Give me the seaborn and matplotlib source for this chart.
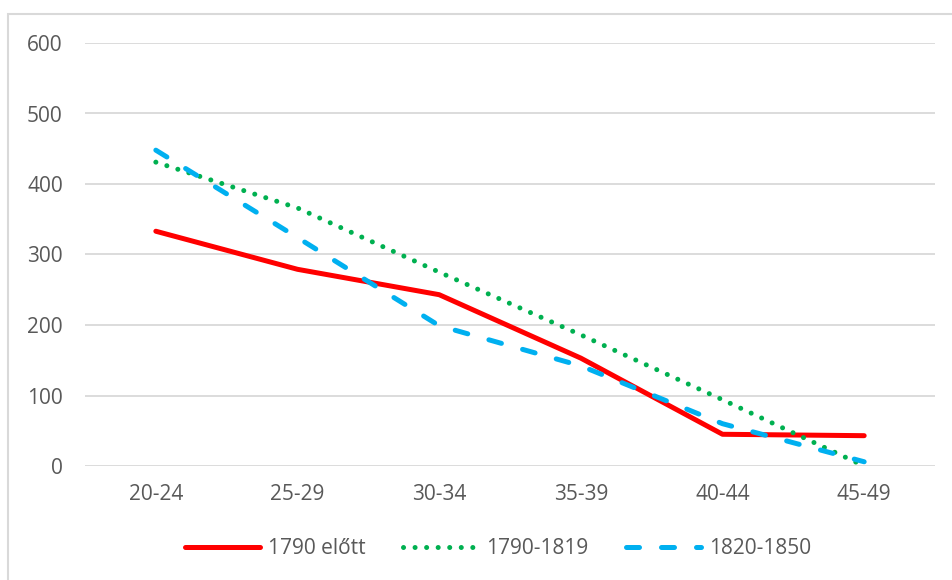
import numpy as np
import pandas as pd
import matplotlib
matplotlib.use('Agg')
import matplotlib.pyplot as plt
import matplotlib.patches as mpatches
import seaborn as sns

# data
age_groups = ['20-24', '25-29', '30-34', '35-39', '40-44', '45-49']
before_1790 = [333, 279, 243, 153, 45, 43]
y1790_1819 = [431, 366, 275, 186, 94, 0]
y1820_1850 = [448, 324, 199, 142, 60, 6]
series_names = ['1790 előtt', '1790-1819', '1820-1850']

df = pd.DataFrame({
    'age': age_groups * 3,
    'value': before_1790 + y1790_1819 + y1820_1850,
    'series': [series_names[0]] * 6 + [series_names[1]] * 6 + [series_names[2]] * 6,
})
df['pos'] = df['age'].map({a: i for i, a in enumerate(age_groups)})

sns.set_theme(style='white')
plt.rcParams['font.family'] = ['Open Sans', 'DejaVu Sans']
plt.rcParams['lines.dash_capstyle'] = 'round'
plt.rcParams['lines.solid_capstyle'] = 'round'
plt.rcParams['lines.solid_joinstyle'] = 'round'

txt = '#595959'
grid = '#d9d9d9'

fig = plt.figure(figsize=(9.52, 5.8), dpi=100)
ax = fig.add_axes([85 / 952, 1 - 466 / 580, 850 / 952, 423 / 580])

palette = {series_names[0]: '#ff0000', series_names[1]: '#00b050', series_names[2]: '#00b0f0'}
dashes = {series_names[0]: '', series_names[1]: (0.01, 2.3), series_names[2]: (2.6, 4.4)}

sns.lineplot(data=df, x='pos', y='value', hue='series', style='series',
             palette=palette, dashes=dashes, linewidth=3.6, ax=ax, legend=True)

ax.set_xlim(-0.5, 5.5)
ax.set_ylim(0, 600)
ax.set_yticks(range(0, 601, 100))
ax.set_xticks(range(6))
ax.set_xticklabels(age_groups)
ax.set_xlabel('')
ax.set_ylabel('')
ax.yaxis.grid(True, color=grid, linewidth=1.3)
ax.set_axisbelow(True)
for s in ax.spines.values():
    s.set_visible(False)
ax.tick_params(axis='both', length=0, labelsize=15, labelcolor=txt)
ax.tick_params(axis='y', pad=16)
ax.tick_params(axis='x', pad=13)

leg = ax.legend(loc='center', bbox_to_anchor=(0.486, -(549 - 466) / 423),
                ncol=3, frameon=False, fontsize=15, handlelength=3.6,
                columnspacing=1.8, handletextpad=0.4)
for t in leg.get_texts():
    t.set_color(txt)

# outer chart border
fig.patches.append(mpatches.Rectangle((8 / 952, -0.1), 1.2, 1.1 - 14 / 580,
                                      transform=fig.transFigure, fill=False,
                                      edgecolor=grid, linewidth=1.5))

fig.savefig('out.png', dpi=100)
